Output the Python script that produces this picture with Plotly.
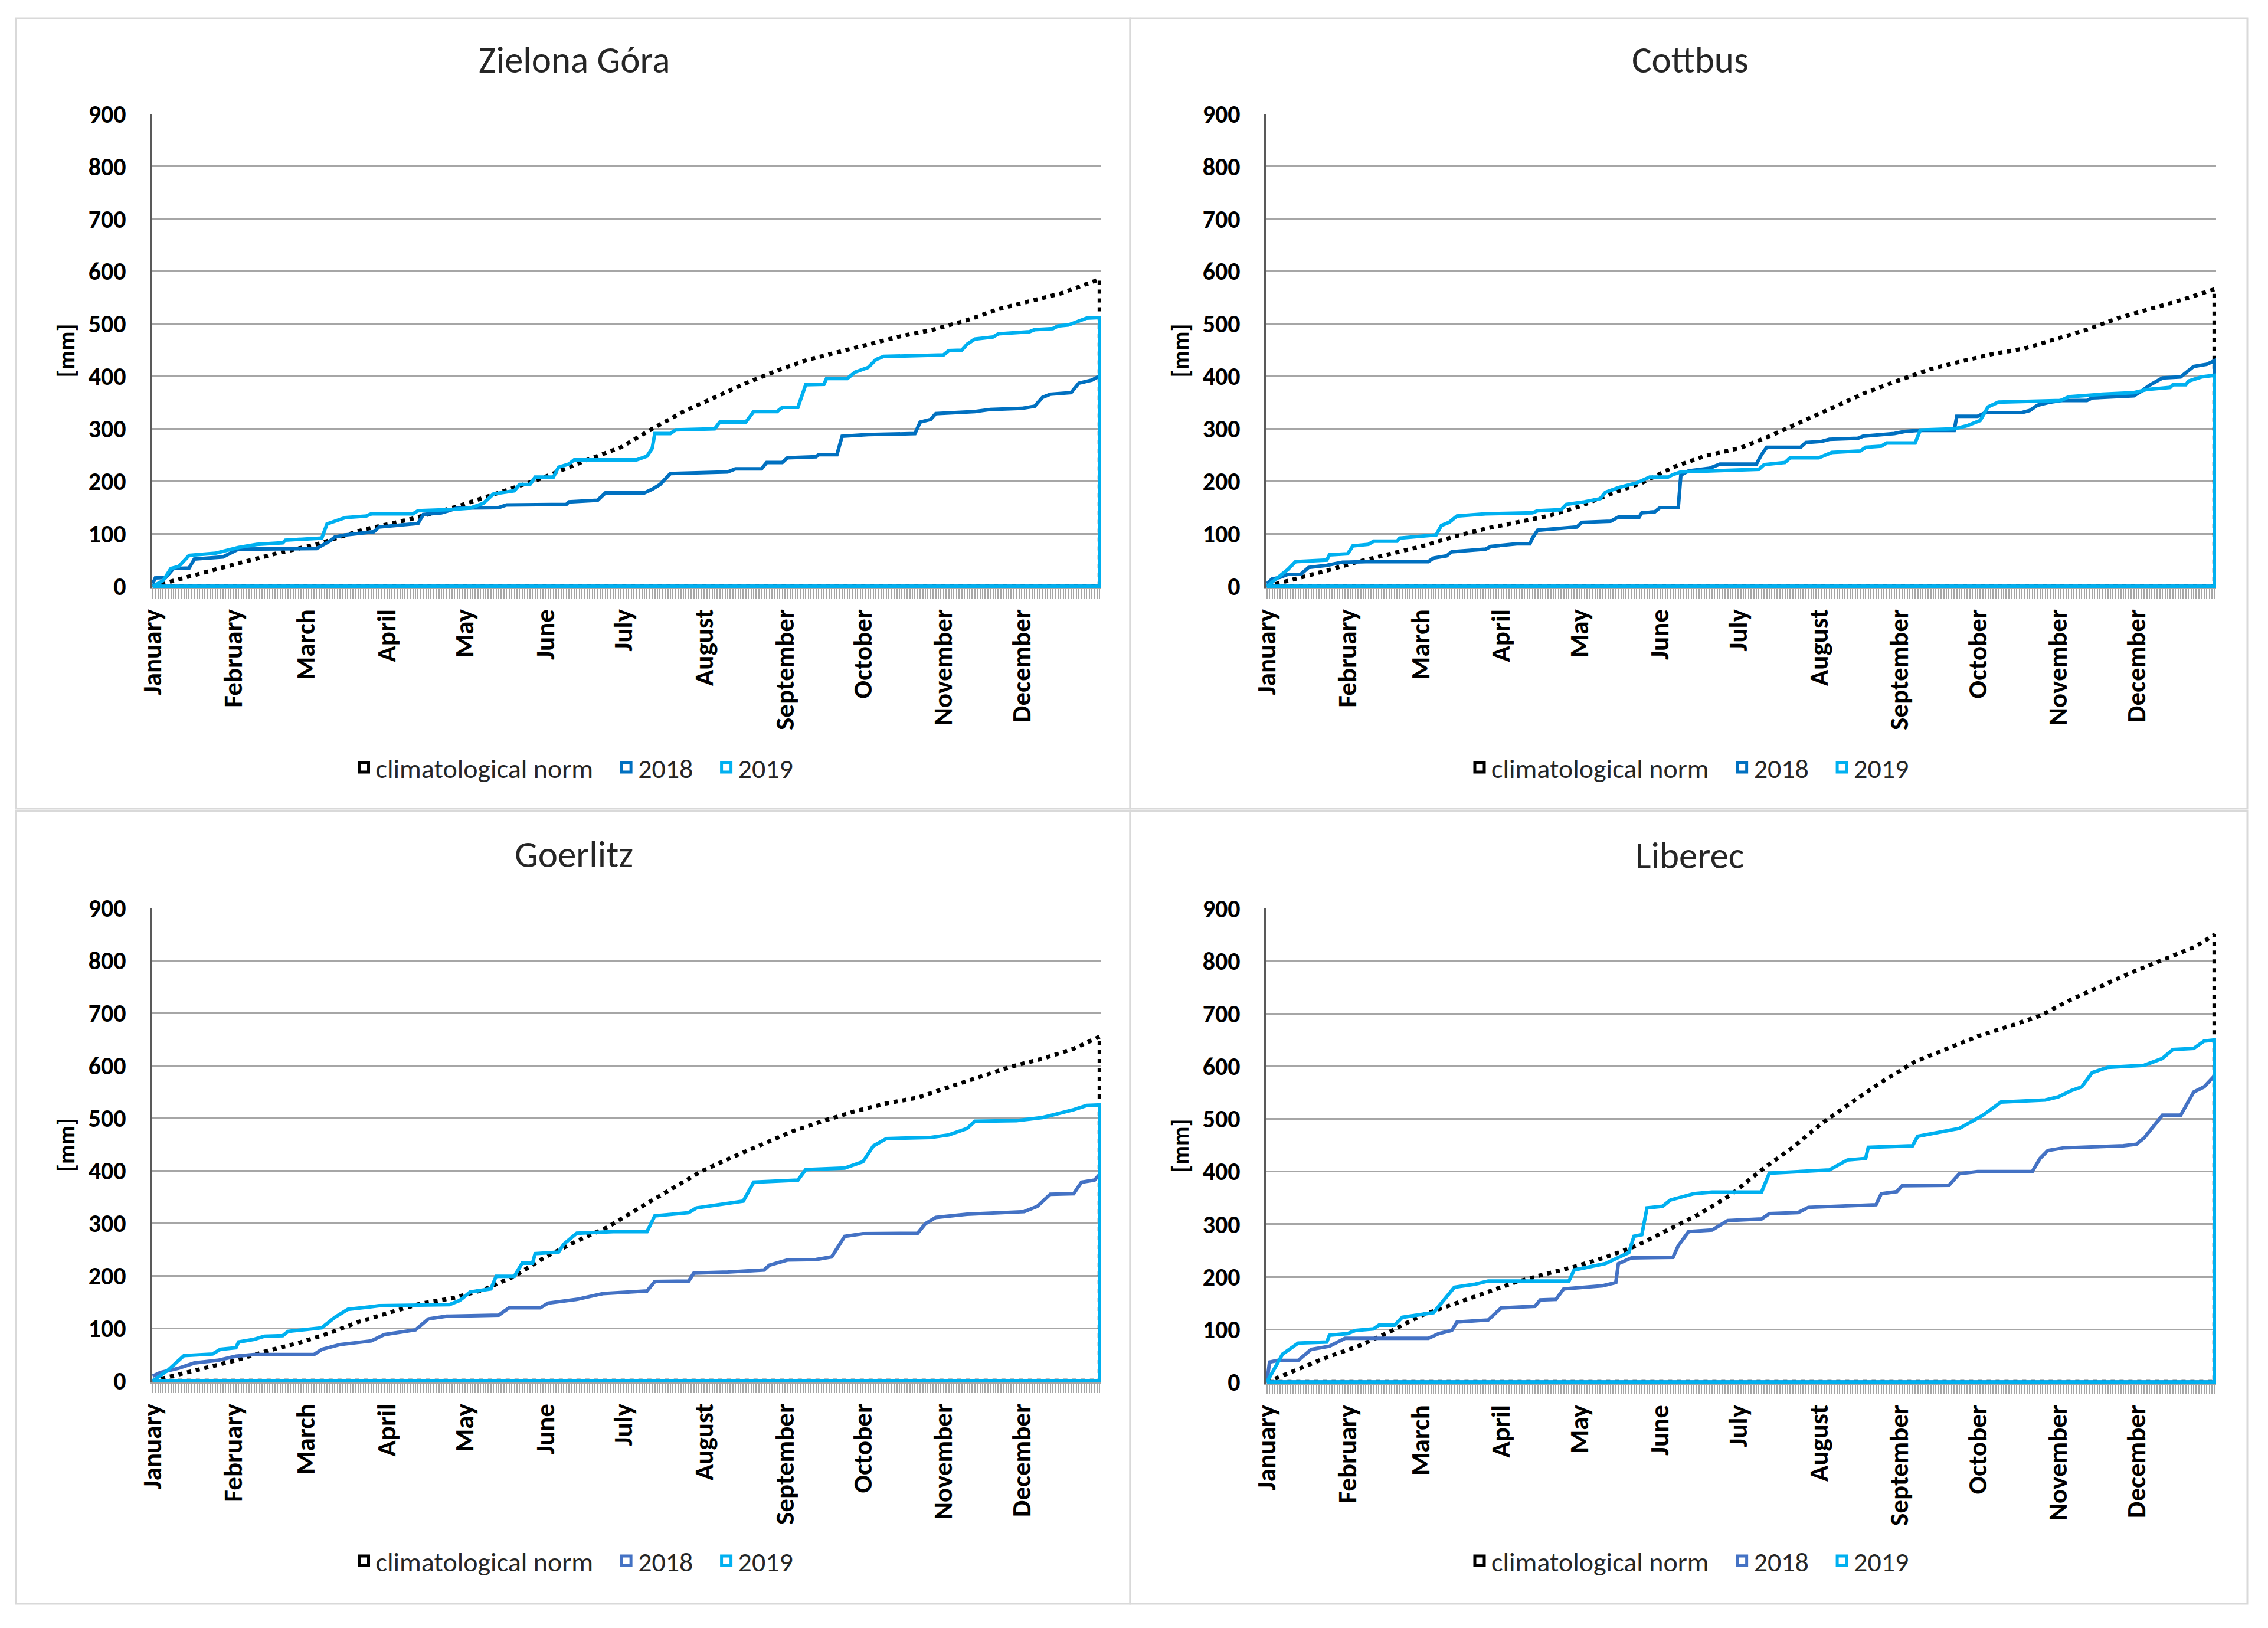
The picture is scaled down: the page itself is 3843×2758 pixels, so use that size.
import plotly.graph_objects as go

W, H = 3843, 2758

month_names = ["January", "February", "March", "April", "May", "June", "July",
               "August", "September", "October", "November", "December"]
month_start_day = [0, 31, 59, 90, 120, 151, 181, 212, 243, 273, 304, 334]
y_ticks = [0, 100, 200, 300, 400, 500, 600, 700, 800, 900]
series_names = ["climatological norm", "2018", "2019"]
stations = ["Zielona Góra", "Cottbus", "Goerlitz", "Liberec"]

# ---------------- Zielona Góra ----------------
zg_norm_day = [0, 8, 21, 33, 47, 63, 81, 99, 117, 130, 148, 166, 180, 192, 204, 216, 228, 240,
               252, 264, 276, 288, 300, 313, 325, 337, 349, 364]
zg_norm_mm = [0, 11, 29, 44, 62, 80, 108, 128, 152, 173, 203, 239, 265, 300, 333, 360, 387, 411,
              432, 447, 463, 477, 489, 507, 528, 543, 558, 585]
zg_2018_day = [0, 1, 5, 8, 14, 16, 27, 33, 63, 68, 70, 74, 85, 87, 102, 104, 111, 117, 133, 136,
               159, 160, 171, 174, 189, 192, 195, 199, 221, 224, 234, 236, 242, 244, 255, 256, 263,
               265, 275, 293, 295, 299, 301, 316, 322, 334, 339, 342, 345, 353, 356, 361, 364]
zg_2018_mm = [5, 16, 17, 34, 35, 52, 56, 71, 72, 86, 94, 98, 104, 113, 120, 137, 140, 149, 150, 155,
              156, 161, 164, 178, 178, 185, 194, 215, 218, 224, 224, 236, 236, 245, 247, 251, 251,
              286, 289, 291, 313, 318, 329, 333, 337, 339, 343, 360, 366, 369, 387, 393, 401]
zg_2019_day = [0, 4, 7, 10, 14, 24, 28, 33, 40, 50, 51, 65, 67, 74, 82, 84, 100, 102, 113, 122,
               127, 131, 139, 141, 145, 147, 154, 156, 160, 162, 186, 190, 192, 193, 199, 201, 216,
               218, 228, 231, 240, 242, 248, 251, 258, 259, 267, 270, 275, 278, 281, 304, 306, 311,
               313, 316, 323, 325, 337, 339, 346, 348, 352, 355, 359, 364]
zg_2019_mm = [0, 11, 34, 38, 59, 63, 68, 74, 80, 83, 88, 92, 119, 131, 134, 138, 138, 144, 146, 149,
              158, 176, 182, 194, 194, 208, 208, 227, 233, 241, 241, 248, 263, 291, 291, 298, 300,
              313, 313, 333, 333, 341, 341, 384, 385, 396, 396, 408, 417, 432, 438, 441, 449, 450,
              461, 471, 475, 481, 485, 489, 491, 496, 498, 504, 511, 512]

# ---------------- Cottbus ----------------
cb_norm_day = [0, 11, 23, 35, 47, 60, 72, 84, 96, 108, 120, 132, 144, 156, 168, 182, 194, 206, 218,
               230, 243, 255, 267, 279, 291, 303, 315, 327, 339, 351, 364]
cb_norm_mm = [0, 14, 30, 47, 62, 77, 95, 110, 122, 134, 152, 176, 197, 227, 248, 264, 288, 315, 342,
              369, 393, 414, 429, 443, 453, 471, 489, 511, 528, 545, 566]
cb_2018_day = [0, 2, 5, 8, 13, 16, 23, 29, 38, 62, 64, 69, 71, 84, 86, 96, 101, 102, 104, 119, 121,
               132, 135, 143, 144, 149, 151, 158, 159, 162, 170, 174, 188, 190, 192, 205, 207, 213,
               216, 227, 229, 241, 245, 250, 264, 265, 273, 276, 290, 293, 296, 301, 305, 315, 317,
               333, 336, 339, 344, 351, 356, 361, 364]
cb_2018_mm = [5, 14, 17, 23, 23, 36, 40, 46, 47, 47, 54, 58, 66, 71, 76, 81, 81, 92, 107, 113, 122,
              124, 132, 132, 140, 142, 150, 150, 212, 220, 225, 233, 233, 251, 265, 265, 274, 276,
              280, 282, 286, 291, 295, 297, 297, 324, 324, 331, 331, 335, 345, 351, 354, 354, 359,
              363, 372, 383, 397, 399, 419, 423, 430]
cb_2019_day = [0, 4, 8, 11, 23, 24, 31, 33, 39, 41, 50, 51, 60, 65, 67, 70, 73, 84, 102, 104, 113,
               115, 122, 128, 130, 135, 142, 145, 147, 154, 156, 159, 189, 191, 199, 201, 212, 217,
               228, 230, 236, 238, 249, 251, 264, 269, 274, 277, 281, 305, 308, 321, 333, 338, 347,
               348, 353, 354, 359, 364]
cb_2019_mm = [0, 17, 32, 47, 50, 60, 62, 77, 80, 86, 86, 92, 95, 98, 116, 122, 134, 138, 140, 144,
              146, 156, 161, 167, 179, 188, 197, 203, 208, 208, 213, 218, 223, 232, 236, 245, 245,
              255, 258, 265, 267, 273, 273, 298, 300, 306, 316, 342, 351, 354, 361, 366, 369, 375,
              379, 384, 384, 391, 399, 402]

# ---------------- Goerlitz ----------------
gr_norm_day = [0, 8, 20, 32, 44, 56, 68, 79, 91, 103, 115, 127, 139, 151, 163, 175, 187, 199, 211,
               223, 235, 246, 258, 270, 282, 294, 306, 318, 330, 342, 354, 364]
gr_norm_mm = [0, 10, 24, 39, 57, 72, 91, 112, 130, 147, 157, 173, 199, 236, 266, 293, 329, 365, 399,
              426, 451, 475, 495, 513, 528, 539, 559, 578, 598, 613, 632, 655]
gr_2018_day = [0, 3, 10, 16, 25, 32, 39, 62, 65, 72, 84, 89, 101, 106, 113, 133, 137, 149, 152, 163,
               173, 190, 193, 206, 208, 221, 235, 237, 244, 255, 261, 266, 273, 294, 297, 301, 313,
               335, 340, 345, 354, 357, 362, 364]
gr_2018_mm = [9, 16, 24, 34, 39, 47, 50, 50, 60, 69, 76, 88, 97, 118, 123, 125, 139, 139, 148, 155,
              166, 171, 189, 190, 205, 207, 211, 220, 230, 231, 236, 275, 280, 281, 299, 311, 317,
              322, 332, 355, 356, 378, 382, 393]
gr_2019_day = [0, 6, 12, 23, 26, 32, 33, 39, 43, 50, 52, 65, 70, 75, 84, 87, 114, 118, 122, 130,
               132, 139, 142, 146, 147, 156, 158, 163, 177, 190, 193, 206, 209, 227, 231, 248, 251,
               266, 273, 277, 282, 299, 306, 313, 316, 332, 342, 347, 354, 359, 364]
gr_2019_mm = [0, 21, 48, 51, 60, 63, 74, 79, 85, 86, 94, 101, 121, 136, 141, 143, 145, 153, 169, 175,
              199, 199, 224, 224, 242, 245, 260, 281, 284, 284, 314, 320, 329, 342, 378, 382, 402,
              405, 417, 447, 461, 463, 468, 480, 494, 495, 501, 507, 516, 524, 525]

# ---------------- Liberec ----------------
lb_norm_day = [0, 11, 23, 35, 47, 59, 71, 83, 95, 106, 118, 130, 142, 154, 166, 178, 190, 202, 213,
               225, 237, 249, 261, 273, 285, 297, 309, 321, 332, 344, 356, 364]
lb_norm_mm = [0, 23, 47, 68, 95, 126, 147, 168, 189, 204, 219, 237, 259, 289, 319, 355, 403, 446, 491,
              533, 573, 609, 633, 657, 676, 696, 727, 754, 778, 802, 826, 850]
lb_2018_day = [0, 1, 4, 12, 17, 24, 30, 62, 66, 71, 73, 85, 90, 103, 105, 111, 114, 129, 134, 135,
               140, 156, 158, 162, 171, 177, 190, 193, 204, 208, 234, 236, 242, 244, 262, 266, 273,
               294, 297, 300, 306, 329, 334, 337, 344, 351, 356, 360, 364]
lb_2018_mm = [0, 38, 41, 41, 62, 68, 83, 83, 92, 98, 114, 118, 141, 144, 156, 157, 177, 183, 189, 225,
              236, 237, 259, 286, 289, 307, 310, 320, 322, 332, 337, 358, 362, 373, 374, 396, 400,
              400, 425, 440, 445, 449, 452, 464, 507, 507, 551, 561, 582]
lb_2019_day = [0, 6, 12, 23, 24, 31, 34, 41, 43, 49, 52, 64, 68, 72, 80, 85, 116, 118, 130, 136,
               139, 141, 144, 146, 152, 155, 164, 171, 190, 193, 202, 216, 223, 230, 231, 248, 250,
               256, 266, 275, 282, 299, 304, 309, 313, 317, 323, 337, 344, 348, 356, 360, 364]
lb_2019_mm = [0, 53, 74, 76, 89, 92, 98, 101, 108, 108, 123, 132, 156, 180, 186, 192, 192, 213, 225,
              240, 246, 277, 280, 331, 334, 346, 358, 361, 361, 397, 400, 403, 422, 425, 446, 449,
              467, 473, 482, 507, 532, 536, 542, 554, 561, 588, 598, 602, 615, 632, 634, 648, 650]

station_data = [
    [(zg_norm_day, zg_norm_mm), (zg_2018_day, zg_2018_mm), (zg_2019_day, zg_2019_mm)],
    [(cb_norm_day, cb_norm_mm), (cb_2018_day, cb_2018_mm), (cb_2019_day, cb_2019_mm)],
    [(gr_norm_day, gr_norm_mm), (gr_2018_day, gr_2018_mm), (gr_2019_day, gr_2019_mm)],
    [(lb_norm_day, lb_norm_mm), (lb_2018_day, lb_2018_mm), (lb_2019_day, lb_2019_mm)],
]

# ---------------- styling / layout ----------------
FONT = "Carlito, Calibri, Lato, sans-serif"
C_NORM = "#000000"
C_2019 = "#00B0F0"
C_2018_TOP = "#0070C0"
C_2018_BOT = "#4472C4"
GRID = "#a6a6a6"
PAD = "\u00a0\u00a0\u00a0"

panels = [
    dict(px=(257, 1866), py=(193, 996), box=(27, 31, 1915, 1370), leg_y=1300, title_y=101, c18=C_2018_TOP),
    dict(px=(2145, 3755), py=(193, 996), box=(1915, 31, 3808, 1370), leg_y=1300, title_y=101, c18=C_2018_TOP),
    dict(px=(257, 1866), py=(1538, 2342), box=(27, 1374, 1915, 2717), leg_y=2644, title_y=1447, c18=C_2018_BOT),
    dict(px=(2145, 3755), py=(1539, 2344), box=(1915, 1374, 3808, 2717), leg_y=2644, title_y=1449, c18=C_2018_BOT),
]


def fx(p):
    return p / W


def fy(p):
    return 1 - p / H


fig = go.Figure()
layout = dict(
    width=W, height=H, margin=dict(l=0, r=0, t=0, b=0, pad=0, autoexpand=False),
    paper_bgcolor="white", plot_bgcolor="white",
    font=dict(family=FONT, color="#262626"),
    shapes=[], annotations=[], showlegend=True,
)

for i, (name, pdef, sdata) in enumerate(zip(stations, panels, station_data)):
    k = "" if i == 0 else str(i + 1)
    xa, ya, lg = "x" + k, "y" + k, "legend" + k
    colors = [C_NORM, pdef["c18"], C_2019]

    for j, ((days, vals), col) in enumerate(zip(sdata, colors)):
        # the sheet's series close back down to zero at the end of the year and along the baseline
        xs = list(days) + [days[-1], days[0]]
        ys = list(vals) + [0, 0]
        if j == 0:
            line = dict(color=col, width=7, dash="7px,8px")
        else:
            line = dict(color=col, width=6)
        fig.add_trace(go.Scatter(x=xs, y=ys, mode="lines", line=line, xaxis=xa, yaxis=ya,
                                 showlegend=False, hoverinfo="skip"))
    for n, (sname, col) in enumerate(zip(series_names, colors)):
        label = sname + (PAD if n < 2 else "")
        fig.add_trace(go.Scatter(x=[None], y=[None], mode="markers", name=label,
                                 marker=dict(symbol="square-open", size=16, color=col,
                                             line=dict(width=5, color=col)),
                                 xaxis=xa, yaxis=ya, legend=lg, showlegend=True))

    x0, x1 = pdef["px"]
    yt, yb = pdef["py"]
    layout["xaxis" + k] = dict(
        domain=[fx(x0), fx(x1)], anchor=ya, range=[-0.4, 364.6],
        tickmode="array", tickvals=month_start_day, ticktext=month_names, tickangle=-90,
        tickfont=dict(size=45, family=FONT, weight="bold", color="#000000"),
        ticks="outside", ticklen=16, tickwidth=2, tickcolor=GRID,
        minor=dict(dtick=1, tick0=0, ticks="outside", ticklen=16, tickwidth=2, tickcolor=GRID),
        showline=True, linecolor=GRID, linewidth=2, showgrid=False, zeroline=False,
        ticklabelstandoff=0, fixedrange=True, automargin=False,
    )
    layout["yaxis" + k] = dict(
        domain=[fy(yb), fy(yt)], anchor=xa, range=[-3, 900],
        tickmode="array", tickvals=y_ticks,
        tickfont=dict(size=42, family=FONT, weight="bold", color="#000000"),
        showgrid=True, gridcolor=GRID, gridwidth=3, zeroline=False,
        showline=True, linecolor="#595959", linewidth=3, ticks="",
        ticklabelstandoff=32, fixedrange=True, automargin=False,
    )
    bx0, by0, bx1, by1 = pdef["box"]
    layout["shapes"].append(dict(type="rect", xref="paper", yref="paper",
                                 x0=fx(bx0), x1=fx(bx1), y0=fy(by1), y1=fy(by0),
                                 line=dict(color="#d9d9d9", width=3), layer="below"))
    cx_panel = (bx0 + bx1) / 2
    layout["annotations"].append(dict(text=name, xref="paper", yref="paper",
                                      x=fx(cx_panel + 2), y=fy(pdef["title_y"]),
                                      xanchor="center", yanchor="middle", showarrow=False,
                                      font=dict(size=63, family=FONT, color="#262626")))
    layout["annotations"].append(dict(text="[mm]", xref="paper", yref="paper",
                                      x=fx(x0 - 145), y=fy((yt + yb) / 2), textangle=-90,
                                      xanchor="center", yanchor="middle", showarrow=False,
                                      font=dict(size=40, family=FONT, weight="bold", color="#000000")))
    layout[lg] = dict(orientation="h", x=fx(cx_panel + 2), xanchor="center",
                      y=fy(pdef["leg_y"]), yanchor="middle", bgcolor="rgba(0,0,0,0)",
                      font=dict(size=46, family=FONT, color="#262626"),
                      itemwidth=30, traceorder="normal")

fig.update_layout(**layout)
fig.write_html("out.html", config={"displayModeBar": False},
               post_script="document.body.style.margin='0';document.body.style.overflow='hidden';")
